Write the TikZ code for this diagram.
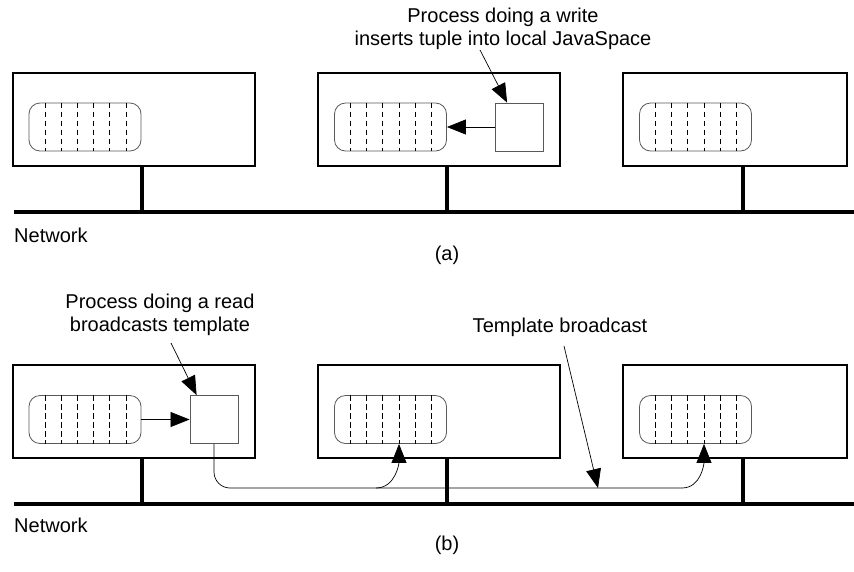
\documentclass[tikz,border=0pt]{standalone}
\usepackage{fontspec}
\setmainfont{Liberation Sans}
\usetikzlibrary{arrows.meta}
\begin{document}
\begin{tikzpicture}[x=1pt,y=-1pt,
  host/.style={draw, line width=2.6pt, minimum width=242pt, minimum height=93pt, inner sep=0pt},
  hostnarrow/.style={host, minimum width=224pt},
  tspace/.style={draw=black!65, line width=0.8pt, rounded corners=11pt, minimum width=112pt, minimum height=48pt, inner sep=0pt},
  proc/.style={draw=black!65, line width=0.8pt, minimum width=48pt, minimum height=48pt, inner sep=0pt},
  divider/.style={line width=0.6pt, dash pattern=on 5.5pt off 3.5pt},
  wire/.style={line width=3.6pt},
  arr/.style={line width=0.7pt, -{Triangle[length=19pt,width=15pt]}},
  lbl/.style={font=\fontsize{20}{23}\selectfont, inner sep=0pt, align=center},
]
\useasboundingbox (0,0) rectangle (854,571);

% ---------- panel (a) ----------
\node[host] (ha1) at (134,119.5) {};
\node[host] (ha2) at (439,119.5) {};
\node[hostnarrow] (ha3) at (735,119.5) {};
\node[tspace] (ta1) at (85,127) {};
\node[tspace] (ta2) at (390.5,127) {};
\node[tspace] (ta3) at (695.5,127) {};
\node[proc] (pa2) at (519.5,127) {};

\coordinate (na-l) at (14,212);
\coordinate (na-r) at (854,212);
\draw[wire] (na-l) -- (na-r);
\foreach \h in {ha1,ha2,ha3}{
  \coordinate (s-\h) at ([xshift=8pt]\h.south);
  \draw[wire] (s-\h) -- (s-\h |- na-l);
}

\draw[arr] (pa2.west) -- (ta2.east);

\node[lbl] (la) at (503,29) {Process doing a write\\inserts tuple into local JavaSpace};
\coordinate (la-from) at (480,50);
\coordinate (la-to) at ([xshift=12pt]pa2.north west);
\draw[arr] (la-from) -- (la-to);

\node[lbl, anchor=west] (neta) at (14,235) {Network};
\node[lbl] (capa) at (447,255) {(a)};

% ---------- panel (b) ----------
\node[host] (hb1) at (134,411.5) {};
\node[host] (hb2) at (439,411.5) {};
\node[hostnarrow] (hb3) at (735,411.5) {};
\node[tspace] (tb1) at (85,419.5) {};
\node[tspace] (tb2) at (390.5,419.5) {};
\node[tspace] (tb3) at (695.5,419.5) {};
\node[proc] (pb1) at (214,419.5) {};

\coordinate (nb-l) at (14,504);
\coordinate (nb-r) at (854,504);
\draw[wire] (nb-l) -- (nb-r);
\foreach \h in {hb1,hb2,hb3}{
  \coordinate (s-\h) at ([xshift=8pt]\h.south);
  \draw[wire] (s-\h) -- (s-\h |- nb-l);
}

\foreach \t in {ta1,ta2,ta3,tb1,tb2,tb3}{
  \foreach \k in {1,...,6}
    \draw[divider] ([xshift=\k*16.2pt]\t.north west) -- ([xshift=\k*16.2pt]\t.south west);
}

\draw[arr] (tb1.east) -- (pb1.west);

% broadcast path
\coordinate (j1) at (376,488);
\coordinate (j2) at (682,488);
\draw[line width=0.7pt, rounded corners=16pt] (pb1.south) |- (j2);
\coordinate (e2) at ([xshift=8.5pt]tb2.south);
\coordinate (e3) at ([xshift=8.5pt]tb3.south);
\draw[arr] (j1) to[out=0,in=-90] (e2);
\draw[arr] (j2) to[out=0,in=-90] (e3);

\node[lbl] (lb) at (160,315) {Process doing a read\\broadcasts template};
\coordinate (lb-from) at (171,343);
\coordinate (lb-to) at ([xshift=7pt]pb1.north west);
\draw[arr] (lb-from) -- (lb-to);

\node[lbl] (lt) at (560,327) {Template broadcast};
\coordinate (lt-from) at (564,346);
\coordinate (lt-to) at (598,488);
\draw[arr] (lt-from) -- (lt-to);

\node[lbl, anchor=west] (netb) at (14,525) {Network};
\node[lbl] (capb) at (447,545) {(b)};
\end{tikzpicture}
\end{document}
